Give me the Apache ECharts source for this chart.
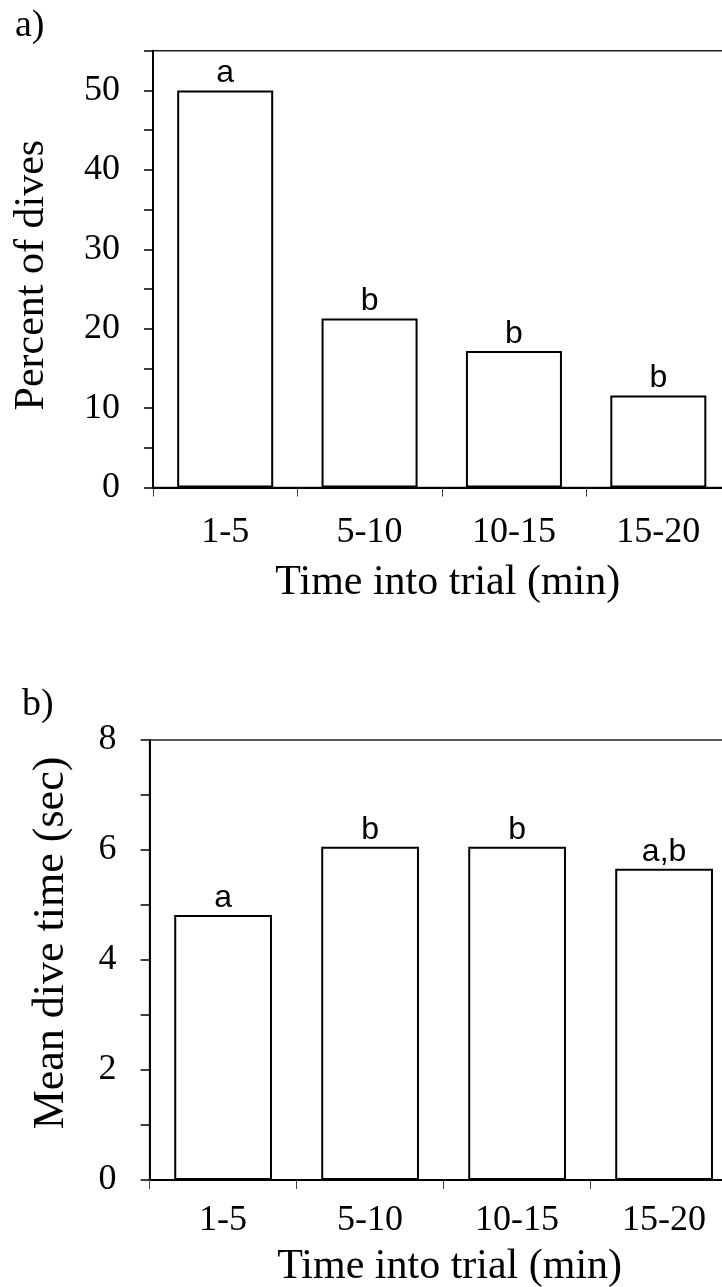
<!DOCTYPE html>
<html><head><meta charset="utf-8">
<script src="https://cdn.jsdelivr.net/npm/echarts@6/dist/echarts.min.js"></script>
<style>html,body{margin:0;padding:0;background:#fff;overflow:hidden}#c{width:760px;height:1287px}</style>
</head><body><div id="c"></div>
<script>
const categories = ['1-5', '5-10', '10-15', '15-20'];
const percentDives = [50.0, 21.3, 17.2, 11.6];
const percentLetters = ['a', 'b', 'b', 'b'];
const meanDiveTime = [4.82, 6.06, 6.06, 5.66];
const diveTimeLetters = ['a', 'b', 'b', 'a,b'];
const panelLabels = ['a)', 'b)'];
const yTitles = ['Percent of dives', 'Mean dive time (sec)'];
const xTitle = 'Time into trial (min)';

const serif = 'Liberation Serif, Times New Roman, serif';
const sans = 'Liberation Sans, Arial, sans-serif';

function xAxisCfg(gi, gap, lmargin) {
  return {
    type: 'category', gridIndex: gi, data: categories,
    axisLine: { lineStyle: { color: '#000', width: 2 } },
    axisTick: { show: true, length: 9, lineStyle: { color: '#444', width: 1 } },
    axisLabel: { fontFamily: serif, fontSize: 36, color: '#000', margin: lmargin },
    name: xTitle, nameLocation: 'middle', nameGap: gap,
    nameTextStyle: { fontFamily: serif, fontSize: 42, color: '#000', padding: [0, 0, 0, 12] }
  };
}
function yAxisCfg(gi, max, interval, labelStep, title, gap, pad, tfs) {
  return {
    type: 'value', gridIndex: gi, min: 0, max: max, interval: interval,
    splitLine: { show: false },
    axisLine: { show: true, lineStyle: { color: '#000', width: 2 } },
    axisTick: { show: true, length: 9, lineStyle: { color: '#000', width: 1.5 } },
    axisLabel: {
      fontFamily: serif, fontSize: 36, color: '#000', margin: 33,
      formatter: v => (Math.abs(v % labelStep) < 1e-9 && v + labelStep / 2 <= max + 1e-9 || v === max && max % labelStep === 0) ? String(v) : ''
    },
    name: title, nameLocation: 'middle', nameGap: gap, nameRotate: 90,
    nameTextStyle: { fontFamily: serif, fontSize: tfs, color: '#000', padding: pad }
  };
}
function barSeries(gi, data, letters) {
  return {
    type: 'bar', xAxisIndex: gi, yAxisIndex: gi, data: data,
    barCategoryGap: '33.5%',
    itemStyle: { color: '#fff', borderColor: '#000', borderWidth: 2 },
    label: {
      show: true, position: 'top', distance: 1,
      fontFamily: sans, fontSize: 32, color: '#000',
      formatter: p => letters[p.dataIndex]
    }
  };
}

const chart = echarts.init(document.getElementById('c'), null, { renderer: 'canvas' });
chart.setOption({
  animation: false,
  backgroundColor: '#fff',
  title: [
    { text: panelLabels[0], left: 10, top: 2, textStyle: { fontFamily: serif, fontSize: 38, fontWeight: 'normal', color: '#000' } },
    { text: panelLabels[1], left: 17, top: 681, textStyle: { fontFamily: serif, fontSize: 38, fontWeight: 'normal', color: '#000' } }
  ],
  grid: [
    { left: 153, top: 50.8, width: 577.5, height: 436.7, show: true, borderColor: '#222', borderWidth: 1.5, backgroundColor: 'transparent', containLabel: false, outerBoundsMode: 'none' },
    { left: 149.6, top: 740, width: 588, height: 440, show: true, borderColor: '#222', borderWidth: 1.5, backgroundColor: 'transparent', containLabel: false, outerBoundsMode: 'none' }
  ],
  xAxis: [xAxisCfg(0, 74, 27), xAxisCfg(1, 66, 23)],
  yAxis: [
    yAxisCfg(0, 55, 5, 10, yTitles[0], 100, [0, 12, 0, 0], 42),
    yAxisCfg(1, 8, 1, 2, yTitles[1], 76, [0, 0, 0, 34], 44)
  ],
  series: [barSeries(0, percentDives, percentLetters), barSeries(1, meanDiveTime, diveTimeLetters)]
});
</script></body></html>
